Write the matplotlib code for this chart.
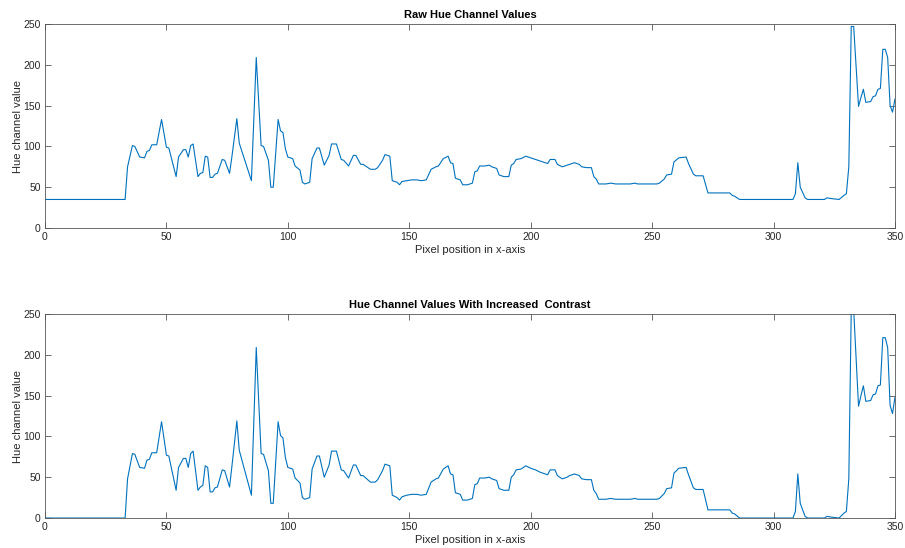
import matplotlib
matplotlib.use("Agg")
import matplotlib.pyplot as plt

plt.rcParams['font.family'] = ['Liberation Sans', 'DejaVu Sans']

# pixel positions (x) and hue readings, raw
x_pos = [0, 33, 34, 36, 37, 39, 41, 42, 43, 44, 46, 48, 50, 51, 54, 55, 57, 58, 59, 60,
         61, 63, 64, 65, 66, 67, 68, 69, 70, 71, 73, 74, 76, 77, 79, 80, 85, 87, 89, 90,
         92, 93, 94, 96, 97, 98, 99, 100, 102, 103, 105, 106, 107, 109, 110, 112, 113, 115, 117, 118,
         120, 122, 123, 125, 127, 128, 130, 131, 134, 136, 137, 139, 140, 142, 143, 145, 146, 147, 149, 151,
         153, 155, 157, 159, 161, 162, 164, 166, 167, 168, 169, 171, 172, 174, 176, 177, 178, 179, 181, 183,
         184, 186, 187, 189, 191, 192, 193, 194, 196, 198, 200, 202, 204, 207, 208, 210, 211, 213, 215, 216,
         218, 220, 221, 223, 225, 226, 227, 228, 231, 233, 235, 241, 243, 244, 252, 253, 255, 256, 258, 259,
         261, 264, 265, 267, 268, 271, 273, 282, 283, 284, 286, 308, 309, 310, 311, 313, 314, 321, 322, 324,
         327, 329, 330, 331, 332, 333, 335, 336, 337, 338, 340, 341, 342, 343, 344, 345, 346, 347, 348, 349,
         350]

hue_raw = [35, 35, 75, 101, 100, 87, 86, 94, 95, 102, 102, 133, 99, 98, 63, 87, 96, 96, 87, 101,
           103, 63, 67, 68, 88, 87, 62, 62, 66, 67, 84, 83, 67, 88, 134, 104, 58, 209, 101, 100,
           83, 50, 50, 133, 119, 117, 97, 87, 85, 76, 71, 56, 54, 56, 85, 98, 98, 77, 89, 103,
           103, 84, 83, 76, 89, 89, 78, 78, 72, 72, 74, 83, 90, 88, 58, 56, 53, 57, 58, 59,
           59, 58, 59, 72, 75, 76, 85, 88, 80, 79, 61, 59, 53, 53, 55, 69, 70, 76, 76, 77,
           75, 73, 65, 63, 63, 77, 79, 84, 85, 88, 86, 84, 82, 79, 84, 84, 78, 75, 77, 78,
           80, 78, 75, 74, 74, 63, 60, 54, 54, 55, 54, 54, 55, 54, 54, 55, 60, 65, 66, 81,
           86, 87, 79, 66, 64, 64, 43, 43, 40, 39, 35, 35, 42, 80, 50, 37, 35, 35, 37, 36,
           35, 40, 42, 75, 247, 247, 149, 160, 170, 154, 155, 161, 162, 170, 171, 219, 219, 209, 150, 142,
           158]

# same positions, after contrast stretch
hue_contrast = [0, 0, 48, 79, 78, 62, 61, 71, 72, 80, 80, 118, 77, 76, 34, 62, 73, 73, 62, 79,
                82, 34, 38, 40, 64, 62, 32, 32, 37, 38, 59, 58, 38, 64, 119, 83, 28, 209, 79, 78,
                58, 18, 18, 118, 101, 98, 74, 62, 60, 49, 43, 25, 23, 25, 60, 76, 76, 50, 65, 82,
                82, 59, 58, 49, 65, 65, 52, 52, 44, 44, 47, 58, 66, 64, 28, 25, 22, 26, 28, 29,
                29, 28, 29, 44, 48, 49, 60, 64, 54, 53, 31, 29, 22, 22, 24, 41, 42, 49, 49, 50,
                48, 46, 36, 34, 34, 50, 53, 59, 60, 64, 61, 59, 56, 53, 59, 59, 52, 48, 50, 52,
                54, 52, 48, 47, 47, 34, 30, 23, 23, 24, 23, 23, 24, 23, 23, 24, 30, 36, 37, 55,
                61, 62, 53, 37, 35, 35, 10, 10, 6, 5, 0, 0, 8, 54, 18, 2, 0, 0, 2, 1,
                0, 6, 8, 48, 255, 255, 137, 150, 162, 143, 144, 151, 152, 162, 163, 221, 221, 209, 138, 128,
                148]

titles = ['Raw Hue Channel Values', 'Hue Channel Values With Increased  Contrast']
series = [hue_raw, hue_contrast]

fig = plt.figure(figsize=(9.05, 5.48), dpi=100)
ax1 = fig.add_axes([0.0497, 0.5839, 0.9392, 0.3723])
ax2 = fig.add_axes([0.0497, 0.0547, 0.9392, 0.3723])

for ax, vals, ttl in zip([ax1, ax2], series, titles):
    ax.plot(x_pos, vals, color='#0072BD', linewidth=0.8)
    ax.set_xlim(0, 350)
    ax.set_ylim(0, 250)
    ax.set_xticks(range(0, 351, 50))
    ax.set_yticks(range(0, 251, 50))
    ax.set_title(ttl, fontsize=8, fontweight='bold', pad=4)
    ax.set_xlabel('Pixel position in x-axis', fontsize=8, color='#262626', labelpad=2)
    ax.set_ylabel('Hue channel value', fontsize=8, color='#262626', labelpad=0)
    ax.tick_params(direction='in', top=True, right=True, length=4, width=0.6,
                   labelsize=7.5, colors='#262626', pad=3)
    ax.tick_params(colors='#555555', labelcolor='#262626')
    for s in ax.spines.values():
        s.set_color('#555555')
        s.set_linewidth(0.6)

fig.savefig('out.png', dpi=100)
